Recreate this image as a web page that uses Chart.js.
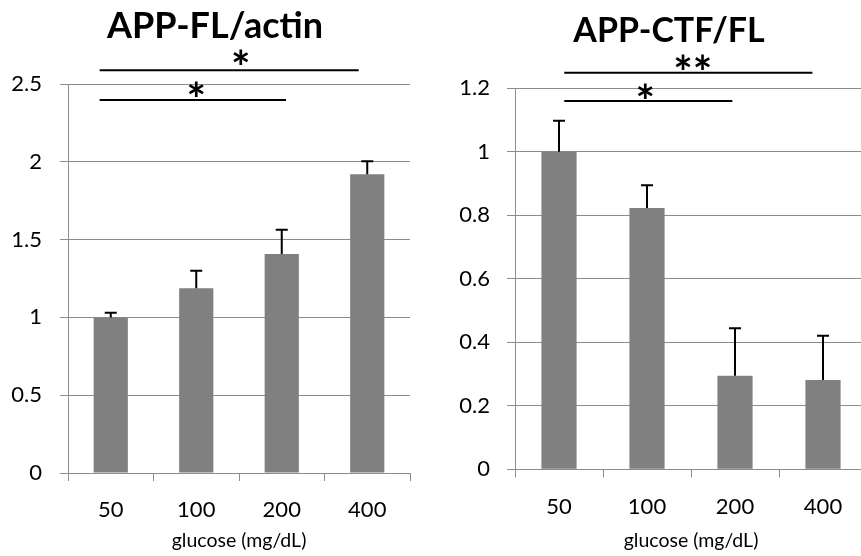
<!DOCTYPE html>
<html>
<head>
<meta charset="utf-8">
<script src="https://cdn.jsdelivr.net/npm/chart.js@4.4.1/dist/chart.umd.min.js"></script>
<style>
  html, body { margin: 0; padding: 0; background: #fff; overflow: hidden; }
  .box { position: absolute; top: 0; }
  #left { left: 0; width: 430px; height: 556px; }
  #right { left: 430px; width: 437px; height: 556px; }
</style>
</head>
<body>
<div class="box" id="left"><canvas id="chartFL"></canvas></div>
<div class="box" id="right"><canvas id="chartCTF"></canvas></div>
<script>
const categories = ["50", "100", "200", "400"];

const flValues = [1.0, 1.187, 1.407, 1.92];
const flErrors = [0.03, 0.113, 0.157, 0.083];
const flTicks = ["0", "0.5", "1", "1.5", "2", "2.5"];

const ctfValues = [1.0, 0.823, 0.295, 0.281];
const ctfErrors = [0.098, 0.072, 0.149, 0.14];
const ctfTicks = ["0", "0.2", "0.4", "0.6", "0.8", "1", "1.2"];

// significance brackets: [from, to] in category units, line value, star pos
const flSig = [
  { from: -0.13, to: 2.9, y: 2.588, label: "*", lx: 1.52, ly: 2.66 },
  { from: -0.13, to: 2.05, y: 2.397, label: "*", lx: 1.0, ly: 2.455 }
];
const ctfSig = [
  { from: 0.06, to: 2.88, y: 1.249, label: "**", lx: 1.52, ly: 1.276 },
  { from: 0.06, to: 1.97, y: 1.16, label: "*", lx: 0.98, ly: 1.185 }
];

const FONT = "Lato, 'Open Sans', sans-serif";
const GRID = "#8c8c8c";

const extras = {
  id: "extras",
  afterDatasetsDraw(chart, args, opts) {
    const ctx = chart.ctx;
    const x = chart.scales.x, y = chart.scales.y;
    const errs = opts.errors || [];
    ctx.save();
    ctx.strokeStyle = "#000";
    ctx.lineWidth = 2;
    chart.data.datasets[0].data.forEach((v, i) => {
      const px = x.getPixelForValue(i);
      const top = y.getPixelForValue(v);
      const end = y.getPixelForValue(v + errs[i]);
      ctx.beginPath();
      ctx.moveTo(px, top);
      ctx.lineTo(px, end);
      ctx.moveTo(px - 6, end);
      ctx.lineTo(px + 6, end);
      ctx.stroke();
    });
    // brackets and stars
    const step = x.getPixelForValue(1) - x.getPixelForValue(0);
    const base = x.getPixelForValue(0);
    ctx.fillStyle = "#000";
    ctx.font = "bold 46px " + FONT;
    ctx.textAlign = "center";
    ctx.textBaseline = "alphabetic";
    (opts.sig || []).forEach(s => {
      const ly = y.getPixelForValue(s.y);
      ctx.beginPath();
      ctx.moveTo(base + s.from * step, ly);
      ctx.lineTo(base + s.to * step, ly);
      ctx.stroke();
      ctx.fillText(s.label, base + s.lx * step, y.getPixelForValue(s.ly) + 25);
    });
    // chart heading
    ctx.font = "bold " + opts.titleSize + "px " + FONT;
    ctx.fillText(opts.title, opts.titleX, opts.titleBase);
    ctx.restore();
  }
};

function makeChart(id, title, values, errors, ticks, max, step, sig, o) {
  return new Chart(document.getElementById(id), {
    type: "bar",
    data: {
      labels: categories,
      datasets: [{
        data: values,
        backgroundColor: "#808080",
        borderWidth: 0,
        barPercentage: 0.4,
        categoryPercentage: 1
      }]
    },
    options: {
      responsive: true,
      maintainAspectRatio: false,
      animation: false,
      layout: { padding: { left: 0, right: o.padRight, top: o.padTop, bottom: 0 } },
      plugins: {
        legend: { display: false },
        tooltip: { enabled: false },
        title: { display: false },
        extras: {
          errors: errors, sig: sig, title: title,
          titleSize: o.titleSize, titleX: o.titleX, titleBase: o.titleBase
        }
      },
      scales: {
        x: {
          grid: { drawOnChartArea: false, drawTicks: true, tickLength: 8, color: GRID },
          border: { color: GRID },
          ticks: { color: "#000", font: { family: FONT, size: 22 }, padding: 16 },
          title: {
            display: true,
            text: "glucose (mg/dL)",
            color: "#000",
            font: { family: FONT, size: 19.5 },
            padding: { top: 0, bottom: 4 }
          },
          afterFit: s => { s.height = o.xHeight; }
        },
        y: {
          min: 0,
          max: max,
          grid: { color: GRID, tickLength: 8 },
          border: { color: GRID },
          ticks: {
            stepSize: step,
            color: "#000",
            font: { family: FONT, size: 22 },
            padding: o.tickPad,
            callback: (v, i) => ticks[i]
          },
          afterFit: s => { s.width = o.yWidth; }
        }
      }
    },
    plugins: [extras]
  });
}

makeChart("chartFL", "APP-FL/actin", flValues, flErrors, flTicks, 2.5, 0.5, flSig,
  { padRight: 20, padTop: 84, xHeight: 83, yWidth: 68, tickPad: 18,
    titleSize: 36, titleX: 215, titleBase: 38 });
makeChart("chartCTF", "APP-CTF/FL", ctfValues, ctfErrors, ctfTicks, 1.2, 0.2, ctfSig,
  { padRight: 0, padTop: 88.3, xHeight: 86.7, yWidth: 85, tickPad: 17,
    titleSize: 34, titleX: 239, titleBase: 42 });
</script>
</body>
</html>
